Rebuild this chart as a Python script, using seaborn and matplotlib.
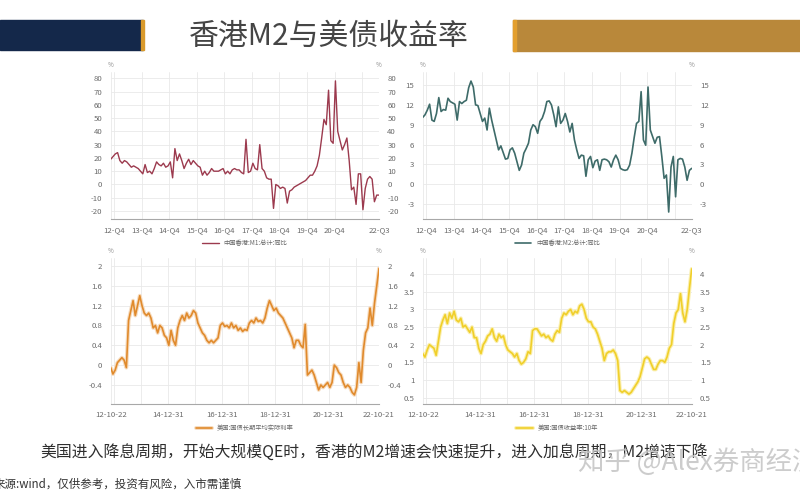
import matplotlib
matplotlib.use('Agg')
import matplotlib.pyplot as plt
import matplotlib.patheffects as pe
from matplotlib.patches import Rectangle
import seaborn as sns
import pandas as pd
import numpy as np

# ---------------- data ----------------
title = "香港M2与美债收益率"
note = "美国进入降息周期，开始大规模QE时，香港的M2增速会快速提升，进入加息周期，M2增速下降"
source = "来源:wind，仅供参考，投资有风险，入市需谨慎"
watermark = "知乎 @Alex券商经济"

m1_name = "中国香港:M1:总计:同比"
m1 = [19, 21, 23, 24, 18, 16, 18, 17, 15, 13,
      14, 13, 12, 10, 8, 15, 9, 10, 8, 12,
      17, 15, 14, 16, 13, 14, 17, 5, 27, 18,
      23, 18, 12, 16, 19, 15, 18, 16, 14, 13,
      7, 10, 7, 9, 12, 10, 10, 10, 11, 12,
      8, 10, 8, 11, 12, 11, 11, 9, 8, 34,
      9, 10, 16, 12, 11, 30, 12, 10, 5, 4,
      4, -18, 0, -1, -3, -2, -3, -14, -5, -4,
      -2, -1, 0, 1, 2, 3, 5, 7, 7, 10,
      14, 22, 35, 49, 45, 71, 33, 31, 78, 40,
      33, 26, 30, 35, 18, -4, -2, -15, 8, 8,
      -19, -3, 4, 6, 4, -13, -8, -8]

m2_name = "中国香港:M2:总计:同比"
m2 = [10.1, 10.5, 11.2, 12.1, 9.7, 9.5, 10.7, 13.1, 11.0, 11.3,
      11.2, 13.0, 12.5, 12.3, 12.1, 9.7, 12.5, 12.2, 12.5, 12.7,
      14.6, 15.6, 14.7, 12.0, 11.9, 10.7, 9.5, 10.0, 8.2, 11.5,
      9.7, 8.2, 6.7, 5.2, 5.8, 4.8, 3.8, 3.9, 5.2, 5.5,
      4.7, 3.4, 2.1, 2.9, 4.7, 5.4, 6.2, 8.2, 9.0, 8.7,
      7.7, 9.5, 10.0, 11.0, 12.5, 12.6, 12.0, 10.5, 8.7, 11.7,
      9.2, 9.7, 10.7, 9.5, 7.9, 9.2, 6.7, 5.2, 3.9, 4.4,
      4.3, 1.2, 3.7, 4.2, 2.5, 3.5, 3.7, 2.1, 3.7, 3.8,
      3.7, 3.4, 2.6, 3.7, 4.4, 3.7, 2.4, 2.2, 2.1, 2.2,
      2.9, 4.7, 7.1, 9.2, 9.5, 14.0, 6.7, 5.9, 14.7, 8.2,
      7.2, 6.2, 7.1, 7.2, 4.2, 0.9, 1.4, -4.2, 2.6, 4.2,
      -1.9, 3.7, 3.9, 3.8, 2.6, 0.6, 2.1, 2.4]

q_ticks = [0, 1.6, 13.6, 25.6, 37.6, 49.6, 61.6, 73.6, 85.6, 97.6, 109.6, 117]
q_labels = ["", "12-Q4", "13-Q4", "14-Q4", "15-Q4", "16-Q4", "17-Q4",
            "18-Q4", "19-Q4", "20-Q4", "", "22-Q3"]

tips_name = "美国:国债长期平均实际利率"
tips = [-0.05, -0.18, -0.1, 0.05, 0.1, 0.15, 0.1, -0.05, 0.9, 1.1,
        1.3, 1.0, 1.2, 1.4, 1.2, 1.05, 1.0, 1.05, 0.95, 0.75,
        0.8, 0.65, 0.8, 0.75, 0.6, 0.55, 0.4, 0.7, 0.5, 0.4,
        0.75, 0.9, 1.0, 0.9, 1.05, 0.95, 1.0, 1.1, 1.05, 0.85,
        0.75, 0.65, 0.6, 0.5, 0.45, 0.5, 0.45, 0.5, 0.55, 0.8,
        0.85, 0.78, 0.8, 0.75, 0.85, 0.75, 0.8, 0.7, 0.75, 0.68,
        0.72, 0.7, 0.85, 0.9, 0.85, 0.95, 0.88, 0.9, 0.85, 0.95,
        1.15, 1.3, 1.2, 1.1, 1.15, 1.05, 1.0, 0.95, 0.85, 0.75,
        0.65, 0.55, 0.35, 0.5, 0.5, 0.4, 0.35, 0.82, -0.2, -0.15,
        -0.1, -0.2, -0.35, -0.5, -0.4, -0.45, -0.4, -0.35, -0.45, -0.35,
        0.0, -0.05, -0.15, -0.2, -0.35, -0.45, -0.4, -0.45, -0.55, -0.6,
        -0.45, 0.05, -0.35, 0.3, 0.65, 0.75, 1.15, 0.8, 1.25, 1.6,
        1.95]

ust_name = "美国:国债收益率:10年"
ust = [1.75, 1.65, 1.85, 2.0, 1.95, 1.9, 1.7, 2.1, 2.5, 2.7,
       2.85, 2.6, 2.9, 2.75, 2.95, 2.7, 2.65, 2.75, 2.5, 2.55,
       2.45, 2.35, 2.5, 2.2, 2.2, 1.9, 1.75, 2.0, 2.1, 2.25,
       2.3, 2.45, 2.2, 2.1, 2.3, 2.2, 2.25, 2.0, 1.85, 1.8,
       1.75, 1.65, 1.75, 1.55, 1.45, 1.5, 1.6, 1.8, 1.75, 2.4,
       2.45, 2.45, 2.35, 2.25, 2.3, 2.2, 2.25, 2.15, 2.1, 2.3,
       2.4, 2.35, 2.75, 2.9, 2.85, 2.95, 3.0, 2.85, 2.95, 2.9,
       3.1, 3.15, 3.0, 2.75, 2.65, 2.65, 2.5, 2.45, 2.3, 2.1,
       1.9, 1.55, 1.75, 1.8, 1.8, 1.85, 1.75, 1.55, 0.7, 0.65,
       0.7, 0.65, 0.6, 0.65, 0.75, 0.85, 0.95, 1.1, 1.35, 1.6,
       1.65, 1.6, 1.45, 1.3, 1.3, 1.45, 1.55, 1.55, 1.5, 1.65,
       1.9, 2.0, 2.6, 2.9, 3.0, 3.45, 2.9, 2.65, 3.0, 3.6,
       4.15]

d_ticks = [0, 1.6, 13.6, 25.6, 37.6, 49.6, 61.6, 73.6, 85.6, 97.6, 109.6, 120]
d_labels = ["12-10-22", "", "", "14-12-31", "", "16-12-31", "",
            "18-12-31", "", "20-12-31", "", "22-10-21"]

# ---------------- style ----------------
sns.set_style("white")
plt.rcParams['font.family'] = ['Noto Sans CJK SC', 'DejaVu Sans']
plt.rcParams['axes.unicode_minus'] = False

W, H = 800, 500
fig = plt.figure(figsize=(8, 5), dpi=100)
fig.patch.set_facecolor('white')


def frac_rect(x0, y0, x1, y1):
    return [x0 / W, 1 - y1 / H, (x1 - x0) / W, (y1 - y0) / H]


def panel(rect, values, name, color, ylim, yticks, ylabels, xticks, xlabels,
          lw, halo=None):
    ax = fig.add_axes(rect)
    df = pd.DataFrame({'x': np.arange(len(values)), 'v': values, 's': name})
    sns.lineplot(data=df, x='x', y='v', hue='s', palette=[color], ax=ax,
                 linewidth=lw)
    if halo is not None:
        for ln in ax.lines:
            ln.set_path_effects([pe.Stroke(linewidth=lw + 1.6, foreground=halo),
                                 pe.Normal()])
    ax.set_xlim(0, len(values) - 1)
    ax.set_ylim(*ylim)
    ax.set_xticks(xticks)
    ax.set_xticklabels(xlabels)
    ax.set_yticks(yticks)
    ax.set_yticklabels(ylabels)
    ax.set_xlabel('')
    ax.set_ylabel('')
    ax.grid(True, color='#e9e9e9', linewidth=0.6)
    ax.set_axisbelow(True)
    for s in ['top', 'left', 'right']:
        ax.spines[s].set_visible(False)
    ax.spines['bottom'].set_color('#a8a8a8')
    ax.spines['bottom'].set_linewidth(0.8)
    ax.tick_params(axis='x', length=3, width=0.6, color='#a8a8a8',
                   labelsize=5.6, labelcolor='#6a6a6a', pad=2)
    ax.tick_params(axis='y', length=0, labelsize=5.6, labelcolor='#6a6a6a',
                   labelleft=True, labelright=True, pad=6)
    ax.text(0, 1.05, '%', transform=ax.transAxes, fontsize=4.5,
            color='#8a8a8a', ha='center', va='center')
    ax.text(1, 1.05, '%', transform=ax.transAxes, fontsize=4.5,
            color='#8a8a8a', ha='center', va='center')
    ax.legend(loc='upper center', bbox_to_anchor=(0.5, -0.1), frameon=False,
              fontsize=4.5, handlelength=2.6, labelcolor='#666666')
    return ax


panel(frac_rect(110.7, 72, 379, 219), m1, m1_name, '#9c3a4e',
      (-26, 84.7), list(range(-20, 81, 10)),
      [str(v) for v in range(-20, 81, 10)], q_ticks, q_labels, 1.0)

panel(frac_rect(422.7, 72, 691.7, 219.3), m2, m2_name, '#3e6b69',
      (-5.3, 16.97), list(range(-3, 16, 3)),
      [str(v) for v in range(-3, 16, 3)], q_ticks, q_labels, 1.2)

bl_ticks = [-0.4, 0, 0.4, 0.8, 1.2, 1.6, 2]
panel(frac_rect(110.7, 258, 379, 404.3), tips, tips_name, '#e08a2c',
      (-0.79, 2.16), bl_ticks, ['-0.4', '0', '0.4', '0.8', '1.2', '1.6', '2'],
      d_ticks, d_labels, 1.2, halo='#f6dcc0')

br_ticks = [0.5, 1, 1.5, 2, 2.5, 3, 3.5, 4]
panel(frac_rect(422.7, 258, 691.7, 404.3), ust, ust_name, '#f0cf2a',
      (0.31, 4.46), br_ticks, ['0.5', '1', '1.5', '2', '2.5', '3', '3.5', '4'],
      d_ticks, d_labels, 1.2, halo='#faefb0')

# ---------------- slide decoration ----------------
fig.patches.append(Rectangle((0, 1 - 50 / H), 143 / W, 30 / H,
                             transform=fig.transFigure, color='#14284a', zorder=0))
fig.patches.append(Rectangle((141 / W, 1 - 50 / H), 3 / W, 30 / H,
                             transform=fig.transFigure, color='#d99a2c', zorder=1))
fig.patches.append(Rectangle((513 / W, 1 - 51 / H), 287 / W, 31 / H,
                             transform=fig.transFigure, color='#b9883a', zorder=0))
fig.patches.append(Rectangle((513 / W, 1 - 51 / H), 3 / W, 31 / H,
                             transform=fig.transFigure, color='#e39f2e', zorder=1))

fig.text(329 / W, 1 - 36 / H, title, fontsize=21.5, color='#454545',
         ha='center', va='center', fontweight='light')

fig.text(40 / W, 1 - 452 / H, note, fontsize=11.4, color='#2e2e2e',
         ha='left', va='center')
fig.text(-6 / W, 1 - 484 / H, source, fontsize=8.3, color='#333333',
         ha='left', va='center')
fig.text(578 / W, 1 - 462 / H, watermark, fontsize=19, color='#c4c4c4',
         ha='left', va='center', alpha=0.85)

fig.savefig('out.png', dpi=100)
